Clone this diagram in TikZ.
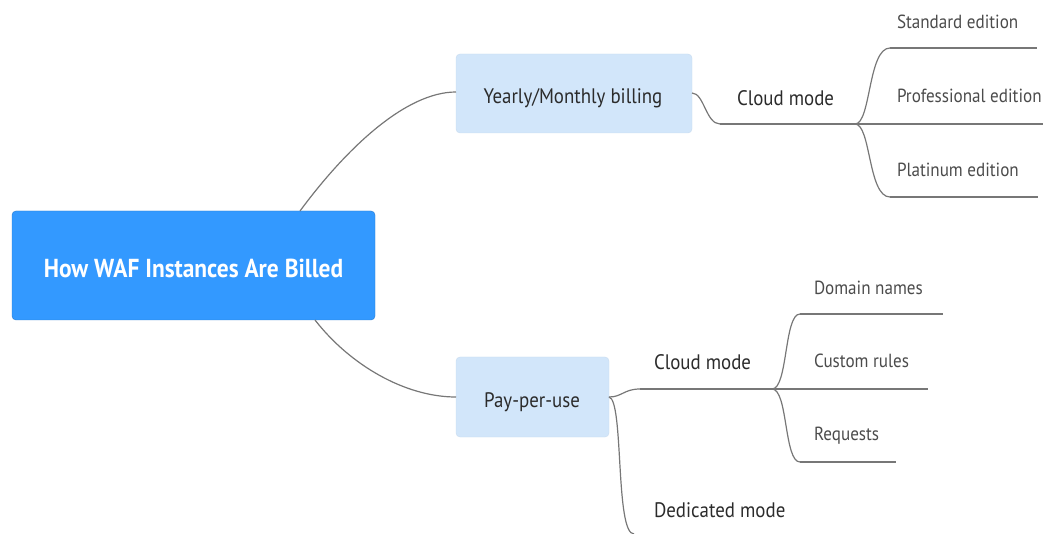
\documentclass[tikz,border=0pt]{standalone}
\usepackage{fontspec}
\setmainfont{PT Sans}[FakeStretch=0.9]
\begin{document}
\begin{tikzpicture}[x=1pt,y=-1pt,
  every node/.style={inner sep=0pt,outer sep=0pt},
  rootbox/.style={rectangle,rounded corners=4pt,fill=rootblue,draw=rootblue!80!black,line width=0.4pt},
  midbox/.style={rectangle,rounded corners=4pt,fill=boxblue,draw=boxblue!90!gray,line width=0.4pt},
  roottxt/.style={text=white,font=\fontsize{26}{30}\selectfont\bfseries},
  midtxt/.style={text=txt,font=\fontsize{21}{25}\selectfont},
  lbl/.style={text=txt,font=\fontsize{21}{25}\selectfont,anchor=west},
  leaf/.style={text=txt!85,font=\fontsize{19}{23}\selectfont,anchor=west},
  conn/.style={draw=lgray,line width=1.2pt},
  uline/.style={draw=lgray,line width=1.8pt}]
\definecolor{rootblue}{HTML}{3399FF}
\definecolor{boxblue}{HTML}{D2E6FA}
\definecolor{txt}{HTML}{2B2B2B}
\definecolor{lgray}{HTML}{777777}
\useasboundingbox (0,0) rectangle (1060,534);
% main nodes
\node[rootbox,minimum width=363pt,minimum height=109pt] (root) at (193.5,265.5) {};
\node[roottxt] (roott) at (193.5,268) {How WAF Instances Are Billed};
\node[midbox,minimum width=236pt,minimum height=79pt] (ym) at (574,93.5) {};
\node[midtxt] (ymt) at (573,98) {Yearly/Monthly billing};
\node[midbox,minimum width=153pt,minimum height=80pt] (ppu) at (532.5,397) {};
\node[midtxt] (pput) at (532,402) {Pay-per-use};
% labels
\node[lbl] (cm1) at (737,98) {Cloud mode};
\node[lbl] (cm2) at (654,362) {Cloud mode};
\node[lbl] (ded) at (654,510) {Dedicated mode};
\node[leaf] (std) at (897,22) {Standard edition};
\node[leaf] (pro) at (897,96) {Professional edition};
\node[leaf] (pla) at (897,170) {Platinum edition};
\node[leaf] (dom) at (814,288) {Domain names};
\node[leaf] (cus) at (814,361) {Custom rules};
\node[leaf] (req) at (814,436) {Requests};
% coordinates
\coordinate (rootA) at (300,211);
\coordinate (rootB) at (315,320);
\coordinate (ymL) at (456,92);
\coordinate (ymR) at (692,93);
\coordinate (ppuL) at (456,397);
\coordinate (ppuR) at (609,397);
\coordinate (c1s) at (720,124);
\coordinate (j1) at (855,124);
\coordinate (s1) at (890,48);
\coordinate (s1e) at (1037,48);
\coordinate (p1e) at (1043,124);
\coordinate (l1) at (890,197);
\coordinate (l1e) at (1038,197);
\coordinate (c2s) at (640,389);
\coordinate (j2) at (772,389);
\coordinate (d1) at (800,314);
\coordinate (d1e) at (943,314);
\coordinate (u1e) at (928,389);
\coordinate (r1) at (800,462);
\coordinate (r1e) at (896,462);
\coordinate (dedE) at (634,534);
% connectors
\draw[conn] (rootA) .. controls (345,150) and (405,92) .. (ymL);
\draw[conn] (rootB) .. controls (350,365) and (405,397) .. (ppuL);
\draw[conn] (ymR) .. controls (704,93) and (706,124) .. (c1s);
\draw[conn] (c1s) -- (j1);
\draw[conn] (j1) .. controls (871,124) and (868,48) .. (s1);
\draw[conn] (j1) .. controls (871,124) and (868,197) .. (l1);
\draw[uline] (s1) -- (s1e);
\draw[uline] (j1) -- (p1e);
\draw[uline] (l1) -- (l1e);
\draw[conn] (ppuR) .. controls (622,397) and (624,389) .. (c2s);
\draw[conn] (c2s) -- (j2);
\draw[conn] (ppuR) .. controls (624,400) and (615,534) .. (dedE);
\draw[conn] (j2) .. controls (788,389) and (784,314) .. (d1);
\draw[conn] (j2) .. controls (788,389) and (784,462) .. (r1);
\draw[uline] (d1) -- (d1e);
\draw[uline] (j2) -- (u1e);
\draw[uline] (r1) -- (r1e);
\end{tikzpicture}
\end{document}
